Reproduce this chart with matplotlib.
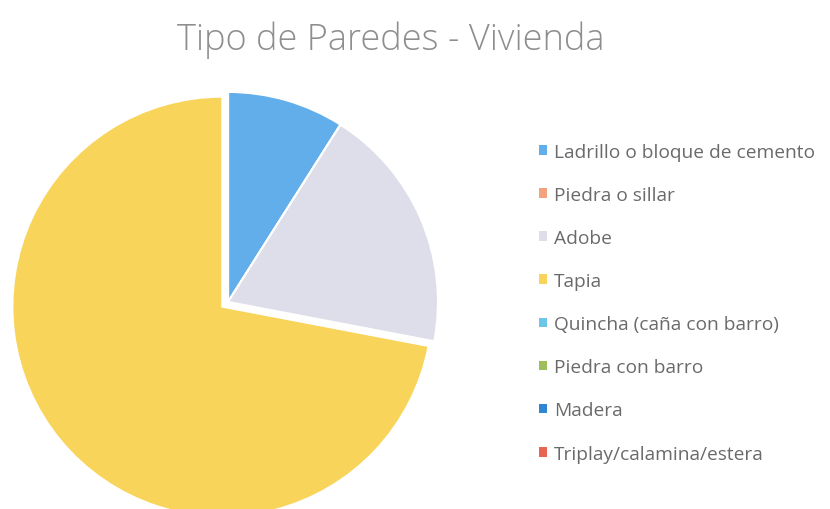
import matplotlib
matplotlib.use('Agg')
import matplotlib.pyplot as plt
from matplotlib.patches import Patch

# data (percent)
labels = ['Ladrillo o bloque de cemento', 'Piedra o sillar', 'Adobe', 'Tapia',
          'Quincha (caña con barro)', 'Piedra con barro', 'Madera',
          'Triplay/calamina/estera']
values = [9, 0, 19, 72, 0, 0, 0, 0]
colors = ['#62AEEA', '#F2A27E', '#DEDEEA', '#F9D45A',
          '#6CC6EA', '#9DBE5C', '#2F86D2', '#E8654F']

plt.rcParams['font.family'] = ['Open Sans', 'DejaVu Sans']

fig = plt.figure(figsize=(8.3, 5.1), dpi=100)
ax = fig.add_axes([0.0217, -0.006, 0.506, 0.824])

explode = [0.035 if v == max(values) else 0 for v in values]
ax.pie(values, colors=colors, startangle=90, counterclock=False,
       explode=explode, wedgeprops=dict(edgecolor='white', linewidth=1.5))
ax.set_xlim(-1, 1)
ax.set_ylim(-1, 1)
ax.set_aspect('equal')
ax.axis('off')

fig.text(0.471, 0.922, 'Tipo de Paredes - Vivienda', ha='center', va='center',
         fontsize=26, color='#8E8E8E', fontweight='light')

handles = [Patch(facecolor=c, edgecolor='none') for c in colors]
leg = fig.legend(handles, labels, loc='upper left', bbox_to_anchor=(0.64, 0.733),
                 frameon=False, fontsize=13.8, labelcolor='#6A6A6A',
                 handlelength=0.4, handleheight=0.4, handletextpad=0.4,
                 labelspacing=1.31, borderaxespad=0)

fig.savefig('out.png', dpi=100)
